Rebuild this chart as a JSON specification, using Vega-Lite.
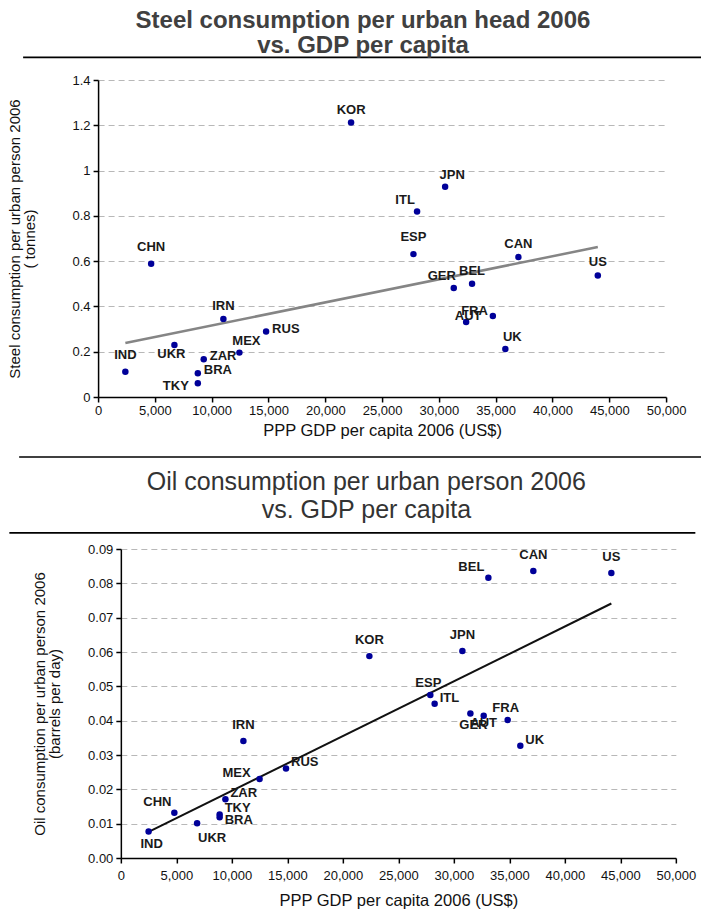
{
  "$schema": "https://vega.github.io/schema/vega-lite/v6.json",
  "background": "white",
  "padding": {"left": 7, "top": 8, "right": 0, "bottom": 0},
  "datasets": {
    "steel": [
      {"c": "IND", "gdp": 2400, "v": 0.112},
      {"c": "CHN", "gdp": 4670, "v": 0.588},
      {"c": "UKR", "gdp": 6720, "v": 0.230},
      {"c": "TKY", "gdp": 8780, "v": 0.061},
      {"c": "BRA", "gdp": 8780, "v": 0.105},
      {"c": "ZAR", "gdp": 9300, "v": 0.167},
      {"c": "IRN", "gdp": 11030, "v": 0.345},
      {"c": "MEX", "gdp": 12440, "v": 0.196},
      {"c": "RUS", "gdp": 14790, "v": 0.289},
      {"c": "KOR", "gdp": 22270, "v": 1.212},
      {"c": "ESP", "gdp": 27760, "v": 0.631},
      {"c": "ITL", "gdp": 28080, "v": 0.819},
      {"c": "JPN", "gdp": 30550, "v": 0.929},
      {"c": "GER", "gdp": 31310, "v": 0.481},
      {"c": "AUT", "gdp": 32400, "v": 0.331},
      {"c": "BEL", "gdp": 32920, "v": 0.500},
      {"c": "FRA", "gdp": 34750, "v": 0.358},
      {"c": "UK", "gdp": 35850, "v": 0.212},
      {"c": "CAN", "gdp": 37000, "v": 0.618},
      {"c": "US", "gdp": 43990, "v": 0.537}
    ],
    "oil": [
      {"c": "IND", "gdp": 2500, "v": 0.0077},
      {"c": "CHN", "gdp": 4820, "v": 0.0132},
      {"c": "UKR", "gdp": 6870, "v": 0.0101},
      {"c": "TKY", "gdp": 8900, "v": 0.0127},
      {"c": "BRA", "gdp": 8900, "v": 0.0119},
      {"c": "ZAR", "gdp": 9420, "v": 0.0171},
      {"c": "IRN", "gdp": 11040, "v": 0.0341},
      {"c": "MEX", "gdp": 12500, "v": 0.0230},
      {"c": "RUS", "gdp": 14880, "v": 0.0261},
      {"c": "KOR", "gdp": 22390, "v": 0.0588},
      {"c": "ESP", "gdp": 27880, "v": 0.0475},
      {"c": "ITL", "gdp": 28270, "v": 0.0449},
      {"c": "JPN", "gdp": 30770, "v": 0.0603},
      {"c": "GER", "gdp": 31490, "v": 0.0421},
      {"c": "AUT", "gdp": 32690, "v": 0.0414},
      {"c": "BEL", "gdp": 33110, "v": 0.0816},
      {"c": "FRA", "gdp": 34850, "v": 0.0402},
      {"c": "UK", "gdp": 35990, "v": 0.0327},
      {"c": "CAN", "gdp": 37160, "v": 0.0836},
      {"c": "US", "gdp": 44190, "v": 0.0830}
    ]
  },
  "spacing": 12,
  "center": true,
  "vconcat": [
    {
      "width": 568,
      "height": 317,
      "title": {
        "text": ["Steel consumption per urban head 2006", "vs. GDP per capita"],
        "fontSize": 24, "fontWeight": "bold", "color": "#404040",
        "lineHeight": 25, "offset": -1, "anchor": "middle", "frame": "bounds"
      },
      "data": {"name": "steel"},
      "layer": [
        {
          "data": {"values": [{"k": 1}]},
          "mark": {"type": "rule", "color": "#000", "strokeWidth": 1.6},
          "encoding": {
            "x": {"datum": -6600, "type": "quantitative", "scale": {"domain": [0, 50000], "nice": false, "zero": false},
              "axis": {"title": "PPP GDP per capita 2006 (US$)", "labelExpr": "format(datum.value, ',')", "values": [0, 5000, 10000, 15000, 20000, 25000, 30000, 35000, 40000, 45000, 50000], "labelPadding": 2, "titlePadding": 5}},
            "x2": {"datum": 54580},
            "y": {"datum": 1.5, "type": "quantitative", "scale": {"domain": [0, 1.4], "nice": false},
              "axis": {"title": ["Steel consumption per urban person 2006", "( tonnes)"], "format": "~g", "values": [0, 0.2, 0.4, 0.6, 0.8, 1, 1.2, 1.4], "labelPadding": 3, "titlePadding": 35}}
          }
        },
        {
          "data": {"values": [{"k": 1}]},
          "mark": {"type": "rule", "color": "#000", "strokeWidth": 1.6},
          "encoding": {
            "x": {"datum": -6950, "type": "quantitative", "scale": {"domain": [0, 50000], "nice": false, "zero": false},
              "axis": {"title": "PPP GDP per capita 2006 (US$)", "labelExpr": "format(datum.value, ',')", "values": [0, 5000, 10000, 15000, 20000, 25000, 30000, 35000, 40000, 45000, 50000], "labelPadding": 2, "titlePadding": 5}},
            "x2": {"datum": 54580},
            "y": {"datum": -0.265, "type": "quantitative", "scale": {"domain": [0, 1.4], "nice": false},
              "axis": {"title": ["Steel consumption per urban person 2006", "( tonnes)"], "format": "~g", "values": [0, 0.2, 0.4, 0.6, 0.8, 1, 1.2, 1.4], "labelPadding": 3, "titlePadding": 35}}
          }
        },
        {
          "encoding": {
            "x": {"field": "gdp", "type": "quantitative", "scale": {"domain": [0, 50000], "nice": false, "zero": false},
              "axis": {"title": "PPP GDP per capita 2006 (US$)", "labelExpr": "format(datum.value, ',')", "values": [0, 5000, 10000, 15000, 20000, 25000, 30000, 35000, 40000, 45000, 50000], "labelPadding": 2, "titlePadding": 5}},
            "y": {"field": "v", "type": "quantitative", "scale": {"domain": [0, 1.4], "nice": false},
              "axis": {"title": ["Steel consumption per urban person 2006", "( tonnes)"], "format": "~g", "values": [0, 0.2, 0.4, 0.6, 0.8, 1, 1.2, 1.4], "labelPadding": 3, "titlePadding": 35}}
          },
          "layer": [
            {"transform": [{"regression": "v", "on": "gdp"}], "mark": {"type": "line", "color": "#858585", "strokeWidth": 2.5}},
            {"mark": {"type": "circle", "color": "#000099", "size": 42, "opacity": 1}},
            {"transform": [{"filter": {"field": "c", "oneOf": ["ESP", "CHN", "IND"]}}], "mark": {"type": "text", "dy": -17, "align": "center"}, "encoding": {"text": {"field": "c"}}},
            {"transform": [{"filter": {"field": "c", "oneOf": ["KOR", "CAN", "IRN", "BEL", "US"]}}], "mark": {"type": "text", "dy": -13, "align": "center"}, "encoding": {"text": {"field": "c"}}},
            {"transform": [{"filter": {"field": "c", "oneOf": ["JPN", "MEX", "UK"]}}], "mark": {"type": "text", "dx": 7, "dy": -12, "align": "center"}, "encoding": {"text": {"field": "c"}}},
            {"transform": [{"filter": {"field": "c", "oneOf": ["ITL", "GER"]}}], "mark": {"type": "text", "dx": -12, "dy": -12, "align": "center"}, "encoding": {"text": {"field": "c"}}},
            {"transform": [{"filter": {"field": "c", "oneOf": ["ZAR", "BRA", "RUS"]}}], "mark": {"type": "text", "dx": 6, "dy": -3, "align": "left"}, "encoding": {"text": {"field": "c"}}},
            {"transform": [{"filter": {"field": "c", "oneOf": ["FRA"]}}], "mark": {"type": "text", "dx": -5, "dy": -5, "align": "right"}, "encoding": {"text": {"field": "c"}}},
            {"transform": [{"filter": {"field": "c", "oneOf": ["TKY"]}}], "mark": {"type": "text", "dx": -9, "dy": 3, "align": "right"}, "encoding": {"text": {"field": "c"}}},
            {"transform": [{"filter": {"field": "c", "oneOf": ["AUT"]}}], "mark": {"type": "text", "dx": 2, "dy": -6, "align": "center"}, "encoding": {"text": {"field": "c"}}},
            {"transform": [{"filter": {"field": "c", "oneOf": ["UKR"]}}], "mark": {"type": "text", "dx": -3, "dy": 9, "align": "center"}, "encoding": {"text": {"field": "c"}}}
          ]
        }
      ]
    },
    {
      "width": 555,
      "height": 309,
      "title": {
        "text": ["Oil consumption per urban person 2006", "vs. GDP per capita"],
        "fontSize": 25, "fontWeight": "normal", "color": "#333333",
        "lineHeight": 28, "offset": 9, "anchor": "middle", "frame": "bounds", "dx": 14
      },
      "data": {"name": "oil"},
      "layer": [
        {
          "data": {"values": [{"k": 1}]},
          "mark": {"type": "rule", "color": "#000", "strokeWidth": 1.6},
          "encoding": {
            "x": {"datum": -10045, "type": "quantitative", "scale": {"domain": [0, 50000], "nice": false, "zero": false},
              "axis": {"title": "PPP GDP per capita 2006 (US$)", "labelExpr": "format(datum.value, ',')", "values": [0, 5000, 10000, 15000, 20000, 25000, 30000, 35000, 40000, 45000, 50000], "labelPadding": 6, "titlePadding": 10}},
            "x2": {"datum": 51757},
            "y": {"datum": 0.0947, "type": "quantitative", "scale": {"domain": [0, 0.09], "nice": false},
              "axis": {"title": ["Oil consumption per urban person 2006", "(barrels per day)"], "format": ".2f", "values": [0, 0.01, 0.02, 0.03, 0.04, 0.05, 0.06, 0.07, 0.08, 0.09], "labelPadding": 3, "titlePadding": 25}}
          }
        },
        {
          "encoding": {
            "x": {"field": "gdp", "type": "quantitative", "scale": {"domain": [0, 50000], "nice": false, "zero": false},
              "axis": {"title": "PPP GDP per capita 2006 (US$)", "labelExpr": "format(datum.value, ',')", "values": [0, 5000, 10000, 15000, 20000, 25000, 30000, 35000, 40000, 45000, 50000], "labelPadding": 6, "titlePadding": 10}},
            "y": {"field": "v", "type": "quantitative", "scale": {"domain": [0, 0.09], "nice": false},
              "axis": {"title": ["Oil consumption per urban person 2006", "(barrels per day)"], "format": ".2f", "values": [0, 0.01, 0.02, 0.03, 0.04, 0.05, 0.06, 0.07, 0.08, 0.09], "labelPadding": 3, "titlePadding": 25}}
          },
          "layer": [
            {"transform": [{"regression": "v", "on": "gdp"}], "mark": {"type": "line", "color": "#111111", "strokeWidth": 2}},
            {"mark": {"type": "circle", "color": "#000099", "size": 42, "opacity": 1}},
            {"transform": [{"filter": {"field": "c", "oneOf": ["IRN", "KOR", "JPN", "CAN", "US"]}}], "mark": {"type": "text", "dy": -16, "align": "center"}, "encoding": {"text": {"field": "c"}}},
            {"transform": [{"filter": {"field": "c", "oneOf": ["ESP", "FRA"]}}], "mark": {"type": "text", "dx": -2, "dy": -12, "align": "center"}, "encoding": {"text": {"field": "c"}}},
            {"transform": [{"filter": {"field": "c", "oneOf": ["CHN", "BEL"]}}], "mark": {"type": "text", "dx": -17, "dy": -11, "align": "center"}, "encoding": {"text": {"field": "c"}}},
            {"transform": [{"filter": {"field": "c", "oneOf": ["GER", "IND"]}}], "mark": {"type": "text", "dx": 3, "dy": 12, "align": "center"}, "encoding": {"text": {"field": "c"}}},
            {"transform": [{"filter": {"field": "c", "oneOf": ["UKR"]}}], "mark": {"type": "text", "dx": 15, "dy": 15, "align": "center"}, "encoding": {"text": {"field": "c"}}},
            {"transform": [{"filter": {"field": "c", "oneOf": ["TKY", "ZAR", "RUS", "ITL", "UK"]}}], "mark": {"type": "text", "dx": 5, "dy": -6, "align": "left"}, "encoding": {"text": {"field": "c"}}},
            {"transform": [{"filter": {"field": "c", "oneOf": ["BRA"]}}], "mark": {"type": "text", "dx": 5, "dy": 3, "align": "left"}, "encoding": {"text": {"field": "c"}}},
            {"transform": [{"filter": {"field": "c", "oneOf": ["MEX"]}}], "mark": {"type": "text", "dx": -9, "dy": -6, "align": "right"}, "encoding": {"text": {"field": "c"}}},
            {"transform": [{"filter": {"field": "c", "oneOf": ["AUT"]}}], "mark": {"type": "text", "dy": 7, "align": "center"}, "encoding": {"text": {"field": "c"}}}
          ]
        }
      ]
    }
  ],
  "config": {
    "view": {"stroke": null},
    "font": "Liberation Sans",
    "text": {"font": "Liberation Sans", "fontSize": 13, "fontWeight": "bold", "color": "#1a1a1a", "baseline": "middle"},
    "title": {"font": "Liberation Sans"},
    "axis": {
      "domainColor": "#000000", "domainWidth": 1.5,
      "tickColor": "#000000", "tickWidth": 1.5, "tickSize": 5,
      "labelFont": "Liberation Sans", "labelFontSize": 13, "labelColor": "#111111",
      "labelFlush": false, "labelOverlap": false,
      "titleFont": "Liberation Sans", "titleFontWeight": "normal", "titleColor": "#111111"
    },
    "axisX": {"grid": false, "titleFontSize": 16.5},
    "axisY": {"grid": true, "gridDash": [6, 4], "gridColor": "#b8b8b8", "gridWidth": 1, "titleFontSize": 15, "titleLineHeight": 15}
  }
}
